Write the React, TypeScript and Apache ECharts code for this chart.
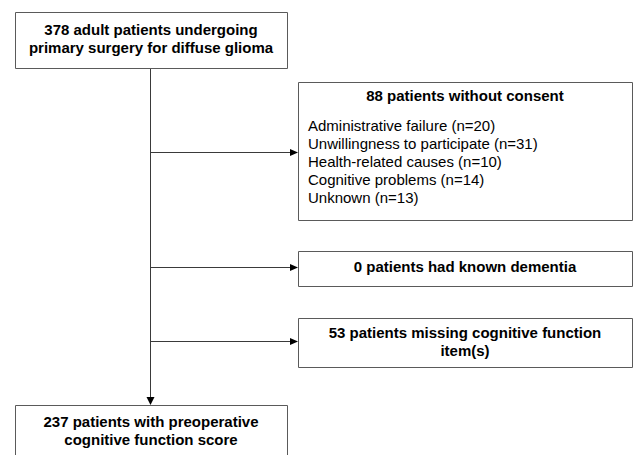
import React, { useEffect, useRef } from "react";
import * as echarts from "echarts";

const totalPatients = 378;
const noConsent = 88;
const consentReasons = [
  "Administrative failure",
  "Unwillingness to participate",
  "Health-related causes",
  "Cognitive problems",
  "Unknown",
];
const consentCounts = [20, 31, 10, 14, 13];
const dementiaCount = 0;
const missingCount = 53;
const finalCount = 237;

const W = 633;
const H = 455;
const LINE = "#3a3a3a";
const BORDER = "#5a5a5a";
const BOLD = 'bold 15px "Liberation Sans", Arial, sans-serif';
const REG = '15px "Liberation Sans", Arial, sans-serif';

function txt(text: string, x: number, y: number, font: string, align = "center") {
  return {
    type: "text",
    x,
    y,
    silent: true,
    style: { text, font, fill: "#000", textAlign: align, textVerticalAlign: "middle" },
  };
}
function box(x: number, y: number, w: number, h: number) {
  return {
    type: "rect",
    shape: { x: x + 0.5, y: y + 0.5, width: w, height: h },
    style: { fill: "#fff", stroke: BORDER, lineWidth: 1 },
  };
}
function hline(x1: number, x2: number, y: number) {
  return {
    type: "line",
    shape: { x1, y1: y + 0.5, x2, y2: y + 0.5 },
    style: { stroke: LINE, lineWidth: 1 },
  };
}
function arrowRight(x: number, y: number) {
  return {
    type: "polygon",
    shape: { points: [[x, y + 0.5], [x - 8, y - 3], [x - 8, y + 4]] },
    style: { fill: "#000" },
  };
}

export default function App() {
  const ref = useRef<HTMLDivElement>(null);
  useEffect(() => {
    document.body.style.margin = "0";
    const chart = echarts.init(ref.current!, null, { renderer: "svg" });
    const cx = 150.5;
    const rcx = 465;
    const elements: any[] = [
      {
        type: "line",
        shape: { x1: cx, y1: 68, x2: cx, y2: 398 },
        style: { stroke: LINE, lineWidth: 1 },
      },
      {
        type: "polygon",
        shape: { points: [[cx, 405], [cx - 4, 397], [cx + 4, 397]] },
        style: { fill: "#000" },
      },
      hline(cx, 292, 152),
      arrowRight(298, 152),
      hline(cx, 292, 267),
      arrowRight(298, 267),
      hline(cx, 292, 341),
      arrowRight(298, 341),
      box(15, 12, 272, 56),
      txt(`${totalPatients} adult patients undergoing`, 151, 29, BOLD),
      txt("primary surgery for diffuse glioma", 151, 47, BOLD),
      box(298, 82, 334, 138),
      txt(`${noConsent} patients without consent`, rcx, 95, BOLD),
      ...consentReasons.map((r, i) =>
        txt(`${r} (n=${consentCounts[i]})`, 308, 125 + i * 18.2, REG, "left")
      ),
      box(298, 251, 334, 35),
      txt(`${dementiaCount} patients had known dementia`, rcx, 266, BOLD),
      box(298, 318, 334, 49),
      txt(`${missingCount} patients missing cognitive function`, rcx, 332, BOLD),
      txt("item(s)", rcx, 350, BOLD),
      box(15, 405, 272, 70),
      txt(`${finalCount} patients with preoperative`, 151, 421, BOLD),
      txt("cognitive function score", 151, 439, BOLD),
    ];
    chart.setOption({
      animation: false,
      backgroundColor: "#fff",
      graphic: { elements },
    });
    return () => chart.dispose();
  }, []);
  return <div ref={ref} style={{ width: W, height: H }} />;
}
